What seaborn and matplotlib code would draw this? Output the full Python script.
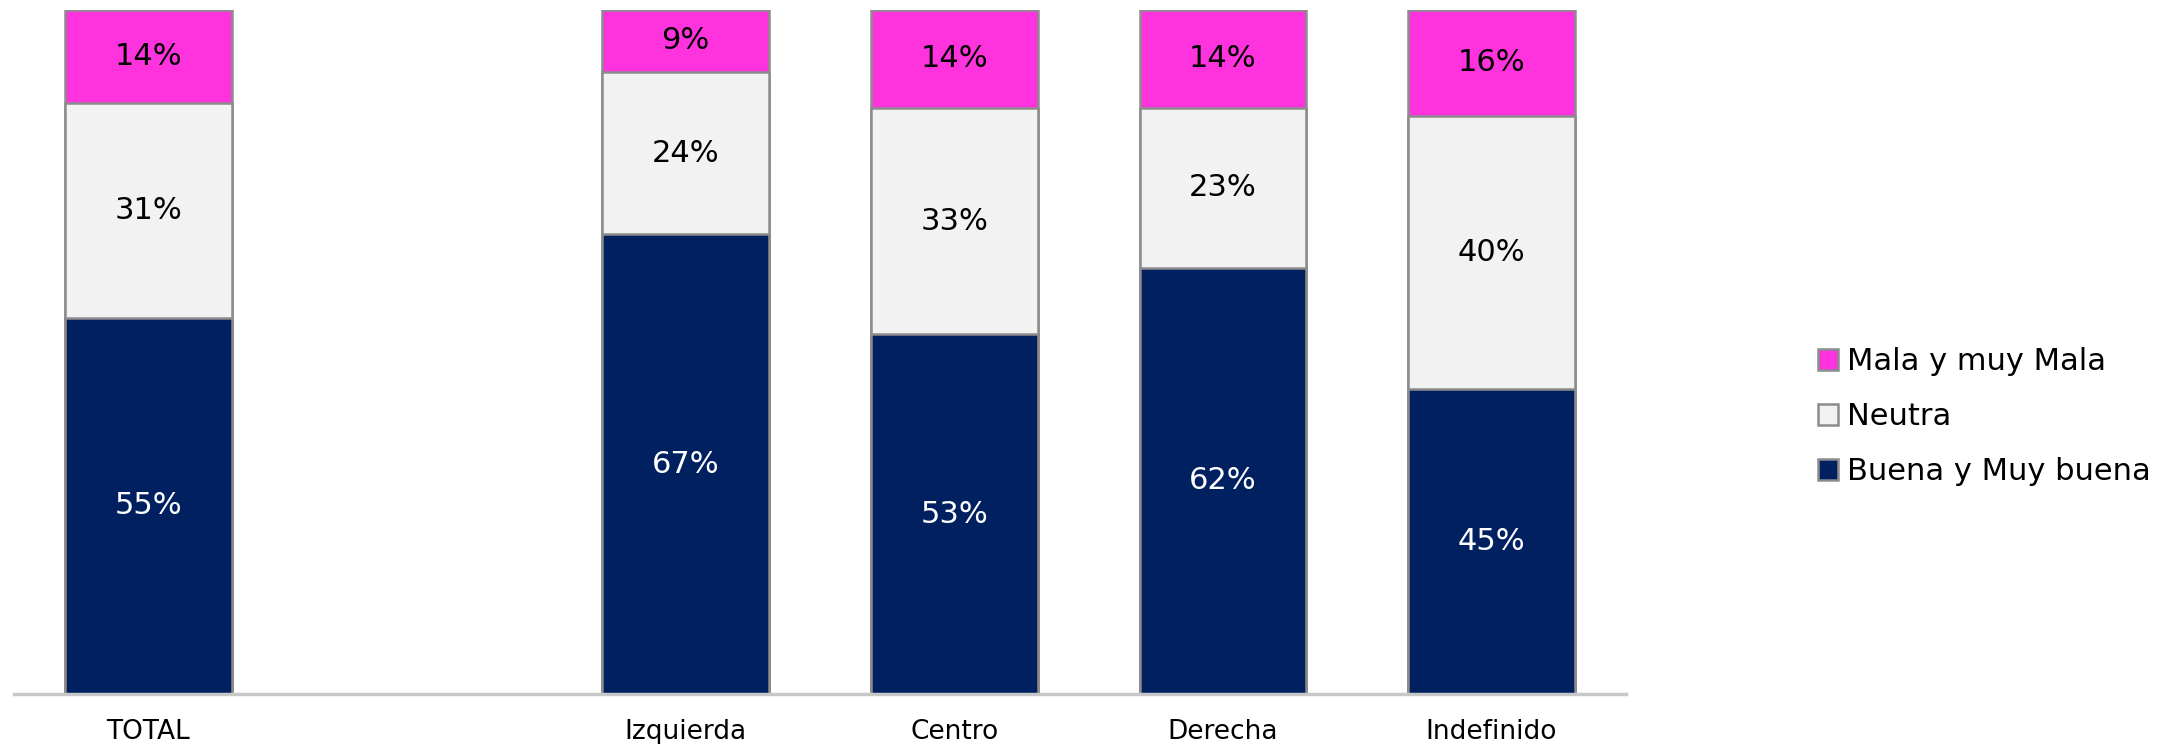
import matplotlib
matplotlib.use("Agg")
import matplotlib.pyplot as plt
from matplotlib.patches import Patch
import seaborn as sns
import pandas as pd
import numpy as np

categories = ["TOTAL", "", "Izquierda", "Centro", "Derecha", "Indefinido"]
groups = ["TOTAL", "Izquierda", "Centro", "Derecha", "Indefinido"]
buena = [55.0, 67.2, 52.6, 62.3, 44.6]
neutra = [31.4, 23.7, 33.0, 23.4, 39.9]
mala = [13.6, 9.1, 14.4, 14.3, 15.5]
series_names = ["Buena y Muy buena", "Neutra", "Mala y muy Mala"]
colors = {"Buena y Muy buena": "#002060", "Neutra": "#F2F2F2", "Mala y muy Mala": "#FF33DD"}
text_colors = {"Buena y Muy buena": "white", "Neutra": "black", "Mala y muy Mala": "black"}

sns.set_theme(style="white")
plt.rcParams["font.family"] = ["DejaVu Sans"]
plt.rcParams["text.color"] = "black"

df = pd.DataFrame({"grupo": groups, "Buena y Muy buena": buena,
                   "Neutra": neutra, "Mala y muy Mala": mala})
df["c1"] = df["Buena y Muy buena"]
df["c2"] = df["c1"] + df["Neutra"]
df["c3"] = df["c2"] + df["Mala y muy Mala"]

fig = plt.figure(figsize=(21.74, 7.44), dpi=100)
ax = fig.add_axes([0.0064, 0.067, 0.7415, 0.920])

edge = "#8C8C8C"
for col, name in [("c3", "Mala y muy Mala"), ("c2", "Neutra"), ("c1", "Buena y Muy buena")]:
    sns.barplot(data=df, x="grupo", y=col, order=categories, color=colors[name],
                saturation=1, width=0.62, edgecolor=edge, linewidth=1.8, ax=ax)

pos = {c: i for i, c in enumerate(categories)}
for _, row in df.iterrows():
    x = pos[row["grupo"]]
    bottom = 0.0
    for name in series_names:
        v = row[name]
        ax.text(x, bottom + v / 2, f"{round(v):.0f}%", ha="center", va="center",
                fontsize=22, color=text_colors[name])
        bottom += v

ax.set_xlim(-0.5, 5.5)
ax.set_ylim(0, 100)
ax.set_xlabel("")
ax.set_ylabel("")
ax.set_yticks([])
ax.tick_params(axis="x", length=0, pad=18, labelsize=19, colors="black")
for s in ["top", "right", "left"]:
    ax.spines[s].set_visible(False)
ax.spines["bottom"].set_color("#C8C8C8")
ax.spines["bottom"].set_linewidth(2.5)

handles = [Patch(facecolor=colors[n], edgecolor=edge, linewidth=1.8, label=n)
           for n in reversed(series_names)]
leg = fig.legend(handles=handles, loc="center left", bbox_to_anchor=(0.8305, 0.44),
                 frameon=False, fontsize=22, handlelength=0.65, handleheight=0.65,
                 handletextpad=0.3, labelspacing=0.85, borderaxespad=0)
for t in leg.get_texts():
    t.set_color("black")

fig.savefig("out.png", dpi=100)
